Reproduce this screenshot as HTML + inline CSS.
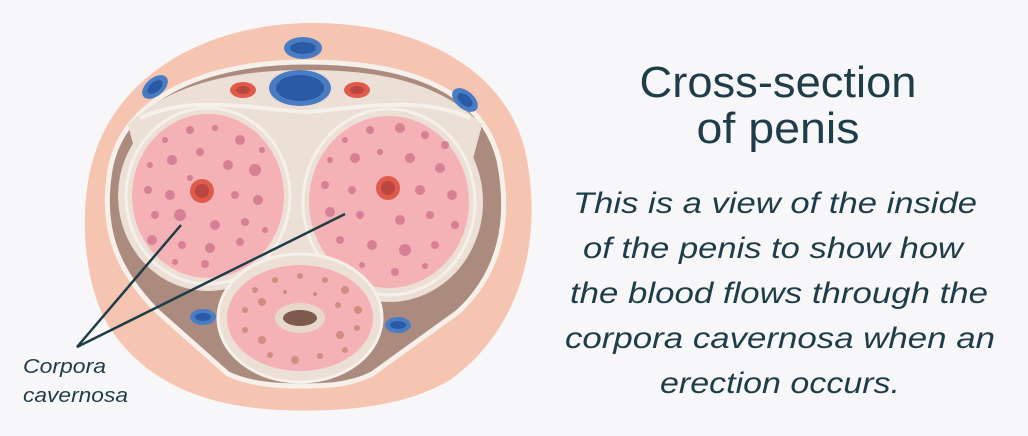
<!DOCTYPE html>
<html><head><meta charset="utf-8"><style>
html,body{margin:0;padding:0;background:#f7f7f9;}
svg{display:block;}
</style></head><body>
<svg width="1028" height="436" viewBox="0 0 1028 436" xmlns="http://www.w3.org/2000/svg">
<rect width="1028" height="436" fill="#f7f7f9"/>
<path d="M310 23 C420 22 505 70 525 150 C545 240 520 330 450 380 C400 410 330 412 280 410 C200 406 140 380 105 320 C80 270 78 190 100 140 C130 70 210 24 310 23 Z" fill="#f5c5b1"/>
<!-- inner region -->
<path d="M305 62 C400 62 480 85 499 160 C512 225 498 275 458 312 L372 374 C348 386 322 386 300 386 C275 386 250 384 228 374 L158 312 C118 272 100 230 110 170 C123 95 210 62 305 62 Z" fill="#ab8b7e" stroke="#f5f1ea" stroke-width="5"/>
<!-- beige tunica -->
<path d="M128 125 C170 82 240 70 305 70 C380 70 440 82 482 125 L470 170 L140 170 Z" fill="#ebdfd6"/>
<ellipse cx="208" cy="196" rx="90" ry="95" fill="#ebdfd6"/>
<ellipse cx="389" cy="202" rx="94" ry="100" fill="#ebdfd6"/>
<rect x="270" y="110" width="60" height="185" fill="#ebdfd6"/>
<path d="M140 118 C190 95 250 108 305 112 C360 108 420 95 470 118" fill="none" stroke="#f5f1ea" stroke-width="4"/>
<ellipse cx="208" cy="196" rx="82" ry="88" fill="none" stroke="#f5f1ea" stroke-width="3"/>
<ellipse cx="389" cy="202" rx="86" ry="93" fill="none" stroke="#f5f1ea" stroke-width="3"/>
<ellipse cx="208" cy="196" rx="76" ry="82" fill="#f4b2b6"/>
<ellipse cx="389" cy="202" rx="80" ry="86" fill="#f4b2b6"/>
<g fill="#d67f95">
<circle cx="165" cy="140" r="3"/><circle cx="190" cy="130" r="4"/><circle cx="215" cy="128" r="3"/><circle cx="240" cy="140" r="5"/><circle cx="262" cy="150" r="3"/><circle cx="150" cy="165" r="3"/><circle cx="172" cy="160" r="5"/><circle cx="200" cy="152" r="4"/><circle cx="228" cy="165" r="5"/><circle cx="255" cy="170" r="6"/><circle cx="148" cy="190" r="4"/><circle cx="170" cy="195" r="5"/><circle cx="235" cy="195" r="4"/><circle cx="258" cy="200" r="5"/><circle cx="155" cy="215" r="4"/><circle cx="180" cy="215" r="6"/><circle cx="215" cy="225" r="5"/><circle cx="245" cy="222" r="4"/><circle cx="265" cy="230" r="3"/><circle cx="152" cy="240" r="5"/><circle cx="182" cy="245" r="4"/><circle cx="210" cy="248" r="5"/><circle cx="240" cy="242" r="4"/><circle cx="175" cy="262" r="3"/><circle cx="205" cy="264" r="4"/><circle cx="190" cy="178" r="3"/>
<circle cx="345" cy="140" r="3"/><circle cx="370" cy="130" r="4"/><circle cx="400" cy="128" r="5"/><circle cx="425" cy="135" r="4"/><circle cx="445" cy="145" r="4"/><circle cx="330" cy="160" r="3"/><circle cx="355" cy="158" r="5"/><circle cx="380" cy="152" r="3"/><circle cx="410" cy="158" r="5"/><circle cx="440" cy="168" r="5"/><circle cx="325" cy="185" r="4"/><circle cx="352" cy="190" r="4"/><circle cx="420" cy="190" r="5"/><circle cx="452" cy="195" r="5"/><circle cx="330" cy="212" r="5"/><circle cx="360" cy="215" r="4"/><circle cx="400" cy="220" r="5"/><circle cx="430" cy="215" r="4"/><circle cx="455" cy="225" r="4"/><circle cx="340" cy="240" r="4"/><circle cx="372" cy="245" r="5"/><circle cx="405" cy="250" r="6"/><circle cx="435" cy="245" r="4"/><circle cx="362" cy="265" r="3"/><circle cx="395" cy="272" r="4"/><circle cx="425" cy="266" r="3"/>
</g>
<circle cx="202" cy="191" r="12" fill="#e05a4b"/><circle cx="202" cy="191" r="7" fill="#b9473f"/>
<circle cx="388" cy="188" r="12" fill="#e05a4b"/><circle cx="388" cy="188" r="7" fill="#b9473f"/>
<ellipse cx="300" cy="318" rx="82" ry="64" fill="#ebdfd6" stroke="#f5f1ea" stroke-width="3"/>
<ellipse cx="300" cy="318" rx="73" ry="53" fill="#f4b2b6"/>
<g fill="#d48b80">
<circle cx="255" cy="290" r="3"/><circle cx="275" cy="280" r="3"/><circle cx="300" cy="276" r="3"/><circle cx="325" cy="280" r="3"/><circle cx="345" cy="290" r="4"/><circle cx="245" cy="310" r="3"/><circle cx="262" cy="302" r="4"/><circle cx="338" cy="305" r="3"/><circle cx="358" cy="310" r="4"/><circle cx="245" cy="330" r="3"/><circle cx="262" cy="340" r="4"/><circle cx="340" cy="335" r="4"/><circle cx="357" cy="328" r="3"/><circle cx="270" cy="355" r="3"/><circle cx="295" cy="360" r="4"/><circle cx="320" cy="356" r="3"/><circle cx="345" cy="350" r="3"/><circle cx="285" cy="292" r="2"/><circle cx="315" cy="294" r="2"/>
</g>
<ellipse cx="300" cy="318" rx="25" ry="15" fill="#e8d8cc"/>
<ellipse cx="300" cy="318" rx="17" ry="8" fill="#7d5a4c"/>
<ellipse cx="303" cy="48" rx="19" ry="11" fill="#4a7cc4"/><ellipse cx="303" cy="48" rx="13" ry="6" fill="#2a5aa6"/>
<ellipse cx="300" cy="88" rx="31" ry="18" fill="#4a7cc4"/><ellipse cx="300" cy="88" rx="24" ry="13" fill="#2a5aa6"/>
<ellipse cx="243" cy="90" rx="13" ry="8" fill="#e05a4b"/><ellipse cx="243" cy="90" rx="7" ry="4" fill="#b9473f"/>
<ellipse cx="357" cy="90" rx="13" ry="8" fill="#e05a4b"/><ellipse cx="357" cy="90" rx="7" ry="4" fill="#b9473f"/>
<ellipse cx="155" cy="87" rx="15" ry="9" fill="#4a7cc4" transform="rotate(-40 155 87)"/><ellipse cx="155" cy="87" rx="9" ry="5" fill="#2a5aa6" transform="rotate(-40 155 87)"/>
<ellipse cx="465" cy="100" rx="15" ry="9" fill="#4a7cc4" transform="rotate(40 465 100)"/><ellipse cx="465" cy="100" rx="9" ry="5" fill="#2a5aa6" transform="rotate(40 465 100)"/>
<ellipse cx="203" cy="317" rx="13" ry="8" fill="#4a7cc4"/><ellipse cx="203" cy="317" rx="8" ry="4" fill="#2a5aa6"/>
<ellipse cx="398" cy="325" rx="13" ry="8" fill="#4a7cc4"/><ellipse cx="398" cy="325" rx="8" ry="4" fill="#2a5aa6"/>
<path d="M181 225 L77 347 L345 214" fill="none" stroke="#1f3d48" stroke-width="2.5"/>
<g fill="#1f3d48" font-family="Liberation Sans, sans-serif">
<text x="23" y="373" font-size="20" font-style="italic" textLength="83" lengthAdjust="spacingAndGlyphs">Corpora</text>
<text x="23" y="402" font-size="20" font-style="italic" textLength="105" lengthAdjust="spacingAndGlyphs">cavernosa</text>
<text x="778" y="97" font-size="44" text-anchor="middle" textLength="277" lengthAdjust="spacingAndGlyphs">Cross-section</text>
<text x="778" y="143" font-size="44" text-anchor="middle" textLength="163" lengthAdjust="spacingAndGlyphs">of penis</text>
<g font-size="30" font-style="italic" text-anchor="middle">
<text x="775" y="213" textLength="404" lengthAdjust="spacingAndGlyphs">This is a view of the inside</text>
<text x="773" y="258" textLength="380" lengthAdjust="spacingAndGlyphs">of the penis to show how</text>
<text x="779" y="303" textLength="418" lengthAdjust="spacingAndGlyphs">the blood flows through the</text>
<text x="780" y="348" textLength="430" lengthAdjust="spacingAndGlyphs">corpora cavernosa when an</text>
<text x="780" y="393" textLength="240" lengthAdjust="spacingAndGlyphs">erection occurs.</text>
</g>
</g>
</svg>
</body></html>
